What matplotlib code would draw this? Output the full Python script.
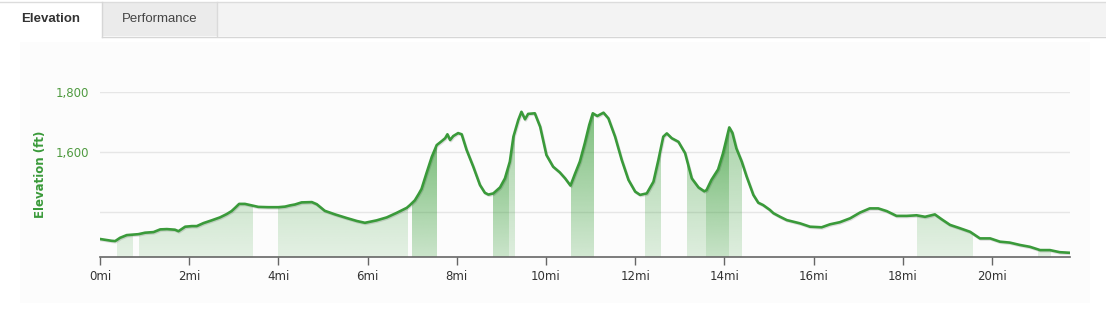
import numpy as np
from matplotlib import pyplot as plt
from matplotlib.patches import Rectangle
import matplotlib.patheffects as pe

# ---- data ----
dist_mi = [0.00, 0.26, 0.34, 0.45, 0.60, 0.86, 1.01, 1.20, 1.35, 1.50, 1.68, 1.76, 1.91,
           2.06, 2.17, 2.32, 2.50, 2.69, 2.84, 2.95, 3.03, 3.12, 3.25, 3.40, 3.55, 3.77,
           4.00, 4.15, 4.26, 4.37, 4.52, 4.75, 4.86, 5.04, 5.27, 5.53, 5.76, 5.94, 6.20,
           6.43, 6.65, 6.88, 6.95, 7.06, 7.15, 7.21, 7.32, 7.44, 7.55, 7.66, 7.74, 7.79,
           7.85, 7.92, 8.03, 8.11, 8.22, 8.37, 8.52, 8.63, 8.71, 8.82, 8.97, 9.08, 9.19,
           9.27, 9.38, 9.45, 9.53, 9.60, 9.75, 9.87, 10.01, 10.16, 10.31, 10.43, 10.55,
           10.65, 10.76, 10.87, 10.97, 11.05, 11.15, 11.29, 11.40, 11.55, 11.70, 11.85,
           12.00, 12.11, 12.26, 12.41, 12.52, 12.63, 12.71, 12.82, 12.97, 13.12, 13.27,
           13.42, 13.55, 13.60, 13.71, 13.86, 13.97, 14.11, 14.18, 14.27, 14.39, 14.50,
           14.65, 14.76, 14.87, 15.02, 15.10, 15.25, 15.40, 15.70, 15.92, 16.18, 16.37,
           16.59, 16.82, 17.04, 17.26, 17.45, 17.64, 17.86, 18.09, 18.31, 18.50, 18.72,
           18.87, 19.06, 19.28, 19.51, 19.73, 19.96, 20.18, 20.40, 20.63, 20.85, 21.08,
           21.30, 21.52, 21.75]
elev_ft = [1311, 1305, 1304, 1315, 1324, 1327, 1332, 1334, 1343, 1344, 1342, 1337, 1352,
           1354, 1354, 1364, 1373, 1383, 1394, 1404, 1415, 1428, 1428, 1423, 1418, 1417,
           1417, 1419, 1423, 1426, 1433, 1434, 1427, 1405, 1393, 1381, 1371, 1365, 1373,
           1383, 1398, 1415, 1424, 1440, 1462, 1478, 1530, 1585, 1624, 1637, 1647, 1660,
           1641, 1654, 1664, 1660, 1608, 1552, 1491, 1465, 1459, 1463, 1483, 1513, 1569,
           1652, 1708, 1735, 1710, 1728, 1730, 1685, 1591, 1552, 1533, 1513, 1489,
           1528, 1569, 1630, 1691, 1730, 1721, 1732, 1713, 1652, 1574, 1508,
           1469, 1458, 1463, 1502, 1574, 1652, 1663, 1647, 1635, 1597, 1513,
           1483, 1470, 1474, 1508, 1543, 1597, 1683, 1665, 1613, 1569, 1519,
           1458, 1432, 1424, 1408, 1397, 1385, 1374, 1363, 1352, 1350, 1360,
           1367, 1380, 1399, 1413, 1413, 1404, 1388, 1388, 1390, 1385, 1393,
           1377, 1358, 1347, 1335, 1313, 1313, 1302, 1299, 1291, 1285, 1274,
           1274, 1267, 1265]

# shaded segments (start, end in miles) and their shade level
band_start = [0.37, 0.87, 4.00, 6.99, 8.82, 9.17, 10.55, 12.22, 13.17, 13.59, 14.10, 18.33, 21.04]
band_end   = [0.72, 3.41, 6.90, 7.55, 9.17, 9.30, 11.05, 12.57, 13.59, 14.10, 14.39, 19.57, 21.32]
band_level = [1.0, 1.0, 1.0, 2.0, 2.0, 1.2, 1.7, 1.2, 1.2, 2.1, 1.2, 1.0, 1.0]

x_ticks = [0, 2, 4, 6, 8, 10, 12, 14, 16, 18, 20]
y_ticks = [1400, 1600, 1800]
y_tick_labels = ["", "1,600", "1,800"]

W, H = 1106, 334
YMIN, YMAX = 1250, 1800
GREEN = "#3a9a3a"

fig = plt.figure(figsize=(W / 100, H / 100), dpi=100)
fig.patch.set_facecolor("white")

# background layer in pixel coords (tabs + container)
bg = fig.add_axes([0, 0, 1, 1], zorder=0)
bg.set_xlim(0, W)
bg.set_ylim(H, 0)
bg.axis("off")
bg.add_patch(Rectangle((20, 42), 1070, 261, facecolor="#fcfcfc", edgecolor="none"))
bg.add_patch(Rectangle((102, 2), W - 102, 34, facecolor="#f3f3f3", edgecolor="none"))
bg.add_patch(Rectangle((102, 2), 115, 34, facecolor="#ebebeb", edgecolor="none"))
bg.plot([0, W], [1.5, 1.5], color="#dcdcdc", lw=1)
bg.plot([102, W], [36.5, 36.5], color="#d6d6d6", lw=1)
bg.plot([102, 102], [2, 37], color="#d6d6d6", lw=1)
bg.plot([217, 217], [2, 36], color="#dadada", lw=1)
bg.text(51, 19, "Elevation", ha="center", va="center", fontsize=9.5,
        fontweight="bold", color="#333333", family="Liberation Sans")
bg.text(160, 19, "Performance", ha="center", va="center", fontsize=9.5,
        color="#444444", family="Liberation Sans")

# main plot
ax = fig.add_axes([100 / W, (H - 257.3) / H, 970 / W, 165 / H], zorder=1)
ax.set_facecolor("none")
ax.set_xlim(0, 21.75)
ax.set_ylim(YMIN, YMAX)

dist = np.array(dist_mi)
elev = np.array(elev_ft)

# area under line used as clip for the gradient bands
area = ax.fill_between(dist, elev, YMIN, facecolor="none", edgecolor="none")
clip = area.get_paths()[0]

frac = np.linspace(0, 1, 256)
for x0, x1, lvl in zip(band_start, band_end, band_level):
    grad = np.zeros((256, 1, 4))
    grad[:, 0, 0] = 60 / 255
    grad[:, 0, 1] = 160 / 255
    grad[:, 0, 2] = 60 / 255
    grad[:, 0, 3] = np.clip(lvl * (0.13 + 0.29 * frac), 0, 1)
    im = ax.imshow(grad, extent=[x0, x1, YMIN, YMAX], origin="lower",
                   aspect="auto", interpolation="bilinear", zorder=1)
    im.set_clip_path(clip, transform=ax.transData)

ax.plot(dist, elev, color=GREEN, lw=1.9, solid_joinstyle="round", zorder=3,
        path_effects=[pe.SimpleLineShadow(offset=(0.6, -0.8), shadow_color="black", alpha=0.12),
                      pe.Normal()])

ax.set_xticks(x_ticks)
ax.set_xticklabels(["{}mi".format(t) for t in x_ticks])
ax.set_yticks(y_ticks)
ax.set_yticklabels(y_tick_labels)
ax.grid(axis="y", color="#e6e6e6", lw=1)
ax.set_axisbelow(True)
for s in ["top", "right", "left"]:
    ax.spines[s].set_visible(False)
ax.spines["bottom"].set_color("#666666")
ax.spines["bottom"].set_linewidth(1.2)
ax.tick_params(axis="x", length=6, width=1, color="#666666", labelsize=8.5,
               labelcolor="#333333", pad=3)
ax.tick_params(axis="y", length=0, labelsize=8.5, labelcolor="#4f9a40", pad=8)
ax.set_ylabel("Elevation (ft)", color=GREEN, fontsize=8.5, fontweight="bold")
ax.yaxis.set_label_coords(-53 / 970, 0.5)

fig.savefig("out.png", dpi=100, facecolor="white")
